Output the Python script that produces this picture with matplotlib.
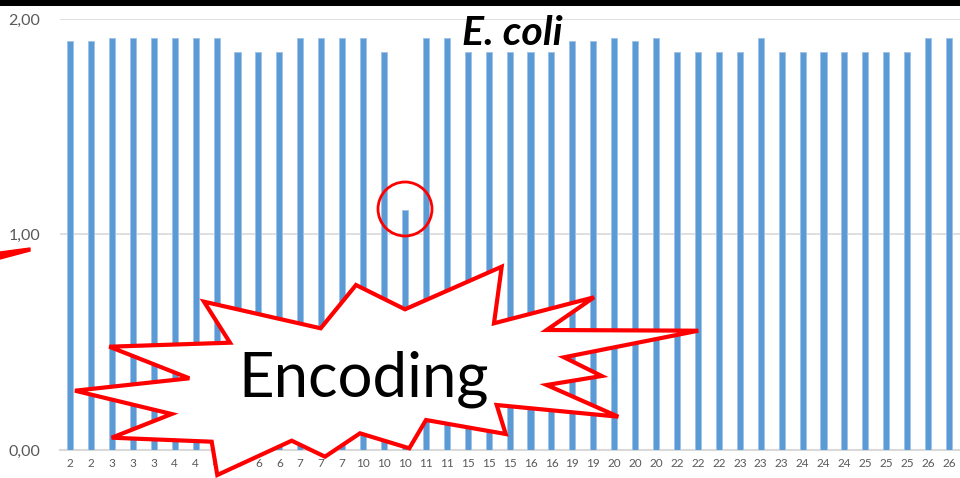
import matplotlib
matplotlib.use("Agg")
import matplotlib.pyplot as plt
from matplotlib.patches import Polygon, Circle, Rectangle
import numpy as np

plt.rcParams['font.family'] = ['Lato', 'DejaVu Sans']

# ---- data ----
labels = ["2", "2", "3", "3", "3", "4", "4", "4", "6", "6", "6", "7", "7", "7",
          "10", "10", "10", "11", "11", "15", "15", "15", "16", "16", "19", "19",
          "20", "20", "20", "22", "22", "22", "23", "23", "23", "24", "24", "24",
          "25", "25", "25", "26", "26"]
values = [1.90, 1.90, 1.91, 1.91, 1.91, 1.91, 1.91, 1.91, 1.845, 1.845, 1.845,
          1.91, 1.91, 1.91, 1.91, 1.845, 1.115, 1.91, 1.91, 1.845,
          1.845, 1.845, 1.845, 1.845, 1.90, 1.90, 1.91, 1.90, 1.91,
          1.845, 1.845, 1.845, 1.845, 1.91, 1.845, 1.845, 1.845, 1.845,
          1.845, 1.845, 1.845, 1.91, 1.91]
yticks = [0.0, 1.0, 2.0]
ytick_labels = ["0,00", "1,00", "2,00"]
title = "E. coli"
callout = "Encoding"

W, H = 960, 478
fig = plt.figure(figsize=(W / 100, H / 100), dpi=100)
fig.patch.set_facecolor('white')

# main axes: x from 60 to 960 px, y from 450 (0) to 19 (2.00)
ax = fig.add_axes([60 / W, (H - 450) / H, 900 / W, (450 - 19) / H])
x = np.arange(len(values))
ax.bar(x, values, width=0.29, color='#5B9BD5', edgecolor='#A4C2E6',
       linewidth=0.7, zorder=3)
ax.set_xlim(-0.48, 42.52)
ax.set_ylim(0, 2.0)
ax.set_yticks(yticks)
ax.set_yticklabels(ytick_labels, fontsize=11.5, color='#595959')
ax.set_xticks(x)
ax.set_xticklabels(labels, fontsize=8.5, color='#595959')
ax.tick_params(axis='both', length=0)
ax.tick_params(axis='y', pad=14)
ax.tick_params(axis='x', pad=6)
ax.grid(axis='y', color='#D9D9D9', linewidth=1.2, zorder=0)
for s in ['top', 'right', 'left']:
    ax.spines[s].set_visible(False)
ax.spines['bottom'].set_color('#D9D9D9')
ax.spines['bottom'].set_linewidth(1.5)
ax.set_facecolor('none')

# overlay in pixel coordinates
ov = fig.add_axes([0, 0, 1, 1], zorder=10)
ov.set_xlim(0, W)
ov.set_ylim(H, 0)
ov.axis('off')
ov.patch.set_alpha(0)

# black band at top
ov.add_patch(Rectangle((0, 0), W, 5.5, facecolor='black', edgecolor='none'))

# title
ov.text(512.5, 45, title, fontsize=29.5, fontweight='bold', fontstyle='italic',
        ha='center', va='baseline', color='black')

# red circle
ov.add_patch(Circle((405, 209), 27, fill=False, edgecolor='#FF0000', linewidth=2))

# red fragment at left
ov.add_patch(Polygon([(0, 252), (30, 248), (30, 251), (0, 259)], closed=True,
                     facecolor='#FF0000', edgecolor='#FF0000', linewidth=1))

# starburst
star = [(204, 301.7), (320.7, 328.3), (356, 285), (405, 309.3), (501.7, 266.7),
        (494, 323.3), (594, 297.3), (546.7, 330), (698.3, 330.7), (564, 357.3),
        (601.7, 376), (546.7, 385), (618.3, 416.7), (496.7, 405), (505.7, 434),
        (426, 420), (409.3, 448.3), (360, 433.3), (325, 456.7), (291.7, 440.7),
        (217.3, 475), (211.7, 441.7), (111.7, 437.7), (171.7, 414), (75, 390.7),
        (189.3, 378.3), (109.3, 346.7), (230, 342.7)]
ov.add_patch(Polygon(star, closed=True, facecolor='white', edgecolor='#FF0000',
                     linewidth=3, joinstyle='miter'))
ov.text(363.5, 396, callout, fontsize=44.5, ha='center', va='baseline', color='black')

fig.savefig('out.png', dpi=100)
